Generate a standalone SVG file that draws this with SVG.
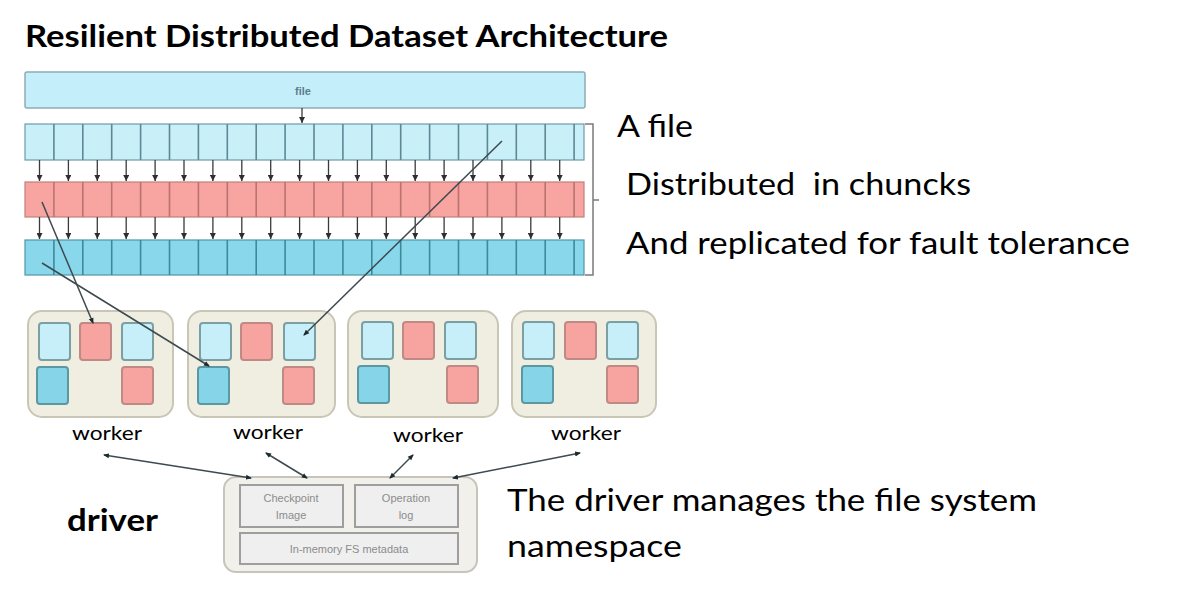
<svg xmlns="http://www.w3.org/2000/svg" width="1193" height="591" viewBox="0 0 1193 591">
<defs>
<style>
.title{font-family:Lato,"Liberation Sans",sans-serif;font-weight:bold;font-size:30px;fill:#000}
.note{font-family:Lato,"Liberation Sans",sans-serif;font-size:31px;fill:#000}
.wlabel{font-family:Lato,"Liberation Sans",sans-serif;font-size:19px;fill:#000}
.tiny{font-family:"Liberation Sans",Arial,sans-serif;font-size:11px;fill:#8c8c8c;text-anchor:middle}
.filetxt{font-family:"Liberation Sans",Arial,sans-serif;font-size:11px;font-weight:bold;fill:#5a7f8c;text-anchor:middle}
.bar{fill:#c4eef9;stroke:#8eacb8;stroke-width:1.5}
.r1{fill:#c9eff9;stroke:#6f9aa8;stroke-width:1.2}
.r2{fill:#f8a4a0;stroke:#c27f7c;stroke-width:1.2}
.r3{fill:#88d7ea;stroke:#4f97a6;stroke-width:1.2}
.d1{stroke:#5d8896;stroke-width:1.6}
.d2{stroke:#b97472;stroke-width:1.6}
.d3{stroke:#3f8a9a;stroke-width:1.6}
.worker{fill:#f0eee1;stroke:#c9c6b8;stroke-width:2}
.bl{fill:#c7eff9;stroke:#7c9fa3;stroke-width:2}
.bred{fill:#f7a39f;stroke:#bf8a86;stroke-width:2}
.bdk{fill:#86d4e8;stroke:#5b98a2;stroke-width:2}
.drv{fill:#f1f0ea;stroke:#c7c5bb;stroke-width:2}
.dbox{fill:#efefef;stroke:#9e9e9e;stroke-width:2}
.small{stroke:#3a3a3a;stroke-width:1.3;fill:none}
.link{stroke:#3d4a4f;stroke-width:1.5;fill:none}
.bracket{stroke:#7a7a7a;stroke-width:1.5;fill:none}
</style>
<marker id="ah" viewBox="0 0 6 6" refX="6" refY="3" markerWidth="6" markerHeight="6" markerUnits="userSpaceOnUse" orient="auto">
<path d="M0,0 L6,3 L0,6 z" fill="#2e2e2e"/>
</marker>
<marker id="dot" viewBox="0 0 6 6" refX="5" refY="3" markerWidth="6" markerHeight="6" markerUnits="userSpaceOnUse" orient="auto-start-reverse">
<path d="M0,0.5 L6,3 L0,5.5 z" fill="#1f2a2e"/>
</marker>
</defs>
<rect width="1193" height="591" fill="#ffffff"/>

<text class="title" x="25" y="47" textLength="643" lengthAdjust="spacingAndGlyphs">Resilient Distributed Dataset Architecture</text>

<g id="file-bar">
<rect class="bar" x="25" y="72" width="560" height="36" rx="2"/>
<text class="filetxt" x="303" y="95">file</text>
</g>

<g id="row-file">
<rect class="r1" x="25" y="124" width="559" height="36"/>
<path class="d1" d="M53.9,124V160M82.8,124V160M111.7,124V160M140.6,124V160M169.5,124V160M198.4,124V160M227.3,124V160M256.2,124V160M285.1,124V160M314,124V160M342.9,124V160M371.8,124V160M400.7,124V160M429.6,124V160M458.5,124V160M487.4,124V160M516.3,124V160M545.2,124V160M574.1,124V160"/>
</g>

<g id="row-chunks">
<rect class="r2" x="25" y="182" width="559" height="35"/>
<path class="d2" d="M53.9,182V217M82.8,182V217M111.7,182V217M140.6,182V217M169.5,182V217M198.4,182V217M227.3,182V217M256.2,182V217M285.1,182V217M314,182V217M342.9,182V217M371.8,182V217M400.7,182V217M429.6,182V217M458.5,182V217M487.4,182V217M516.3,182V217M545.2,182V217M574.1,182V217"/>
</g>

<g id="row-replicas">
<rect class="r3" x="25" y="240" width="559" height="35"/>
<path class="d3" d="M53.9,240V275M82.8,240V275M111.7,240V275M140.6,240V275M169.5,240V275M198.4,240V275M227.3,240V275M256.2,240V275M285.1,240V275M314,240V275M342.9,240V275M371.8,240V275M400.7,240V275M429.6,240V275M458.5,240V275M487.4,240V275M516.3,240V275M545.2,240V275M574.1,240V275"/>
</g>

<g id="bracket">
<path class="bracket" d="M585,124H593V275H585M593,200H599"/>
</g>

<g id="worker-1">
<rect class="worker" x="28" y="311" width="145" height="106" rx="14"/>
<rect class="bl" x="39" y="323" width="31" height="37" rx="3"/>
<rect class="bred" x="80" y="323" width="31" height="37" rx="3"/>
<rect class="bl" x="122" y="323" width="31" height="37" rx="3"/>
<rect class="bdk" x="37" y="367" width="31" height="37" rx="3"/>
<rect class="bred" x="122" y="367" width="31" height="37" rx="3"/>
<text class="wlabel" x="72" y="440" textLength="70" lengthAdjust="spacingAndGlyphs">worker</text>
</g>

<g id="worker-2">
<rect class="worker" x="188" y="311" width="147" height="106" rx="14"/>
<rect class="bl" x="200" y="323" width="31" height="37" rx="3"/>
<rect class="bred" x="241" y="323" width="31" height="37" rx="3"/>
<rect class="bl" x="284" y="323" width="31" height="37" rx="3"/>
<rect class="bdk" x="198" y="367" width="31" height="37" rx="3"/>
<rect class="bred" x="283" y="367" width="31" height="37" rx="3"/>
<text class="wlabel" x="233" y="439" textLength="70" lengthAdjust="spacingAndGlyphs">worker</text>
</g>

<g id="worker-3">
<rect class="worker" x="348" y="311" width="150" height="106" rx="14"/>
<rect class="bl" x="362" y="322" width="31" height="37" rx="3"/>
<rect class="bred" x="403" y="322" width="31" height="37" rx="3"/>
<rect class="bl" x="445" y="322" width="31" height="37" rx="3"/>
<rect class="bdk" x="358" y="366" width="31" height="37" rx="3"/>
<rect class="bred" x="447" y="366" width="31" height="37" rx="3"/>
<text class="wlabel" x="393" y="442" textLength="70" lengthAdjust="spacingAndGlyphs">worker</text>
</g>

<g id="worker-4">
<rect class="worker" x="512" y="311" width="144" height="106" rx="14"/>
<rect class="bl" x="523" y="322" width="31" height="37" rx="3"/>
<rect class="bred" x="565" y="322" width="31" height="37" rx="3"/>
<rect class="bl" x="607" y="322" width="31" height="37" rx="3"/>
<rect class="bdk" x="522" y="366" width="31" height="37" rx="3"/>
<rect class="bred" x="607" y="366" width="31" height="37" rx="3"/>
<text class="wlabel" x="551" y="440" textLength="70" lengthAdjust="spacingAndGlyphs">worker</text>
</g>

<g id="driver">
<rect class="drv" x="224" y="477" width="253" height="95" rx="12"/>
<rect class="dbox" x="240" y="485" width="103" height="42"/>
<rect class="dbox" x="355" y="485" width="103" height="42"/>
<rect class="dbox" x="240" y="533" width="218" height="31"/>
<text class="tiny" x="291" y="502">Checkpoint</text>
<text class="tiny" x="291" y="519">Image</text>
<text class="tiny" x="406" y="502">Operation</text>
<text class="tiny" x="406" y="519">log</text>
<text class="tiny" x="349" y="553">In-memory FS metadata</text>
</g>

<g id="connectors">
<line class="small" x1="302" y1="108" x2="302" y2="123" marker-end="url(#ah)"/>
<path class="small" marker-end="url(#ah)" d="M39.5,160V181"/>
<path class="small" marker-end="url(#ah)" d="M68.4,160V181"/>
<path class="small" marker-end="url(#ah)" d="M97.3,160V181"/>
<path class="small" marker-end="url(#ah)" d="M126.2,160V181"/>
<path class="small" marker-end="url(#ah)" d="M155.1,160V181"/>
<path class="small" marker-end="url(#ah)" d="M184,160V181"/>
<path class="small" marker-end="url(#ah)" d="M212.9,160V181"/>
<path class="small" marker-end="url(#ah)" d="M241.8,160V181"/>
<path class="small" marker-end="url(#ah)" d="M270.7,160V181"/>
<path class="small" marker-end="url(#ah)" d="M299.6,160V181"/>
<path class="small" marker-end="url(#ah)" d="M328.5,160V181"/>
<path class="small" marker-end="url(#ah)" d="M357.4,160V181"/>
<path class="small" marker-end="url(#ah)" d="M386.3,160V181"/>
<path class="small" marker-end="url(#ah)" d="M415.2,160V181"/>
<path class="small" marker-end="url(#ah)" d="M444.1,160V181"/>
<path class="small" marker-end="url(#ah)" d="M473,160V181"/>
<path class="small" marker-end="url(#ah)" d="M501.9,160V181"/>
<path class="small" marker-end="url(#ah)" d="M530.8,160V181"/>
<path class="small" marker-end="url(#ah)" d="M559.7,160V181"/>
<path class="small" marker-end="url(#ah)" d="M39.5,217V239"/>
<path class="small" marker-end="url(#ah)" d="M68.4,217V239"/>
<path class="small" marker-end="url(#ah)" d="M97.3,217V239"/>
<path class="small" marker-end="url(#ah)" d="M126.2,217V239"/>
<path class="small" marker-end="url(#ah)" d="M155.1,217V239"/>
<path class="small" marker-end="url(#ah)" d="M184,217V239"/>
<path class="small" marker-end="url(#ah)" d="M212.9,217V239"/>
<path class="small" marker-end="url(#ah)" d="M241.8,217V239"/>
<path class="small" marker-end="url(#ah)" d="M270.7,217V239"/>
<path class="small" marker-end="url(#ah)" d="M299.6,217V239"/>
<path class="small" marker-end="url(#ah)" d="M328.5,217V239"/>
<path class="small" marker-end="url(#ah)" d="M357.4,217V239"/>
<path class="small" marker-end="url(#ah)" d="M386.3,217V239"/>
<path class="small" marker-end="url(#ah)" d="M415.2,217V239"/>
<path class="small" marker-end="url(#ah)" d="M444.1,217V239"/>
<path class="small" marker-end="url(#ah)" d="M473,217V239"/>
<path class="small" marker-end="url(#ah)" d="M501.9,217V239"/>
<path class="small" marker-end="url(#ah)" d="M530.8,217V239"/>
<path class="small" marker-end="url(#ah)" d="M559.7,217V239"/>
<line class="link" x1="42" y1="202" x2="93" y2="323" marker-end="url(#dot)"/>
<line class="link" x1="42" y1="263" x2="209" y2="366" marker-end="url(#dot)"/>
<line class="link" x1="502" y1="141" x2="304" y2="335" marker-end="url(#dot)"/>
<line class="link" x1="104" y1="455" x2="251" y2="478" marker-start="url(#dot)" marker-end="url(#dot)"/>
<line class="link" x1="266" y1="453" x2="307" y2="478" marker-start="url(#dot)" marker-end="url(#dot)"/>
<line class="link" x1="413" y1="455" x2="390" y2="478" marker-start="url(#dot)" marker-end="url(#dot)"/>
<line class="link" x1="580" y1="453" x2="453" y2="478" marker-start="url(#dot)" marker-end="url(#dot)"/>
</g>

<g id="notes">
<text class="note" x="617" y="137" textLength="76" lengthAdjust="spacingAndGlyphs">A file</text>
<text class="note" x="626" y="195" textLength="345" lengthAdjust="spacingAndGlyphs" xml:space="preserve">Distributed  in chuncks</text>
<text class="note" x="626" y="254" textLength="504" lengthAdjust="spacingAndGlyphs">And replicated for fault tolerance</text>
<text class="note" x="507" y="511" textLength="530" lengthAdjust="spacingAndGlyphs">The driver manages the file system</text>
<text class="note" x="507" y="557" textLength="175" lengthAdjust="spacingAndGlyphs">namespace</text>
<text class="title" x="67" y="531" textLength="91" lengthAdjust="spacingAndGlyphs">driver</text>
</g>
</svg>
